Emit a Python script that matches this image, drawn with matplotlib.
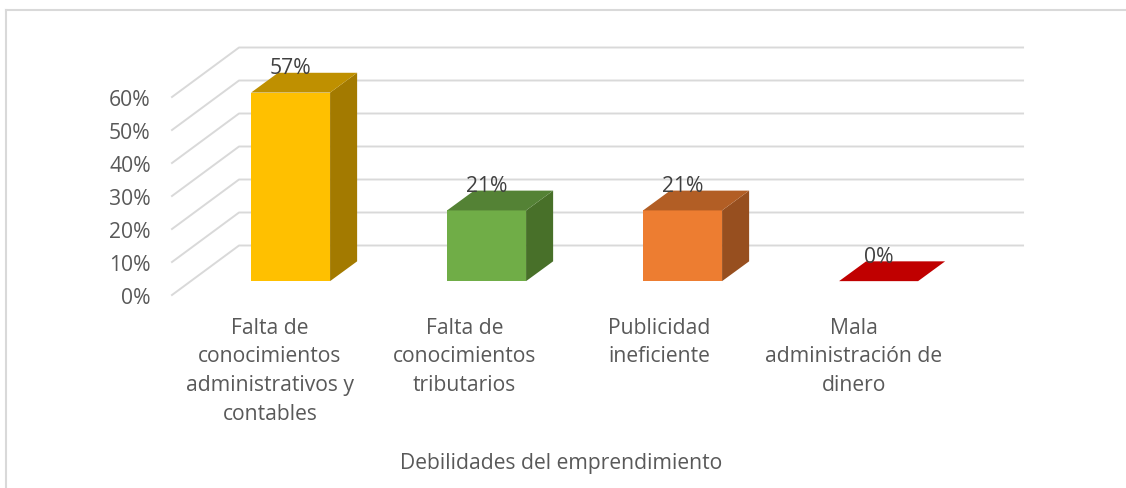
import matplotlib
matplotlib.use("Agg")
import matplotlib.pyplot as plt
from matplotlib.lines import Line2D
from matplotlib.patches import Polygon, Rectangle

# datos
categorias = ["Falta de\nconocimientos\nadministrativos y\ncontables",
              "Falta de\nconocimientos\ntributarios",
              "Publicidad\nineficiente",
              "Mala\nadministración de\ndinero"]
valores = [57.14, 21.43, 21.43, 0]
etiquetas = ["57%", "21%", "21%", "0%"]
ticks_y = [0, 10, 20, 30, 40, 50, 60]
ticks_y_txt = ["0%", "10%", "20%", "30%", "40%", "50%", "60%"]
titulo_x = "Debilidades del emprendimiento"

col_frente = ["#FFC000", "#70AD47", "#ED7D31", "#C00000"]
col_arriba = ["#BF9000", "#548235", "#B25E25", "#C00000"]
col_lado = ["#A37A00", "#487029", "#974F1F", "#A30000"]

plt.rcParams["font.family"] = ["Open Sans", "DejaVu Sans"]

W, H = 1126, 489
fig = plt.figure(figsize=(W / 100, H / 100), dpi=100)
ax = fig.add_axes([172 / W, 1 - 296 / H, 784 / W, 198 / H])
ax.set_xlim(-0.5, 3.5)
ax.set_ylim(0, 60)
for s in ax.spines.values():
    s.set_visible(False)

# profundidad del efecto 3D, en unidades de los ejes
prof_x, prof_y = 0.342, 15
bar_dx, bar_dy = 0.138, 6
elev = 4.2
despl = 0.105
ancho = 0.403

# paredes: lineas de la cuadricula
gris = "#D9D9D9"
for t in ticks_y:
    ax.plot([-0.5, -0.5 + prof_x, 3.5 + prof_x], [t, t + prof_y, t + prof_y],
            color=gris, lw=1.4, clip_on=False, zorder=1)

# barras
for i, v in enumerate(valores):
    x0 = i + despl - ancho / 2
    x1 = x0 + ancho
    y0 = elev
    y1 = v + elev
    if v > 0:
        ax.add_patch(Polygon([(x1, y0), (x1 + bar_dx, y0 + bar_dy), (x1 + bar_dx, y1 + bar_dy), (x1, y1)],
                             fc=col_lado[i], ec="none", clip_on=False, zorder=3))
        ax.add_patch(Rectangle((x0, y0), ancho, v, fc=col_frente[i], ec="none", clip_on=False, zorder=3))
    ax.add_patch(Polygon([(x0, y1), (x0 + bar_dx, y1 + bar_dy), (x1 + bar_dx, y1 + bar_dy), (x1, y1)],
                         fc=col_arriba[i], ec="none", clip_on=False, zorder=3))
    ax.text(i + despl, y1 + 7.6, etiquetas[i], ha="center", va="center",
            fontsize=15.2, color="#404040", clip_on=False, zorder=4)

ax.set_xticks([i * 0.9925 for i in range(len(categorias))])
ax.set_xticklabels(categorias, fontsize=15.2, color="#595959", linespacing=1.49, va="top")
ax.set_yticks(ticks_y)
ax.set_yticklabels(ticks_y_txt, fontsize=15.2, color="#595959")
ax.tick_params(length=0)
ax.tick_params(axis="x", pad=15.5)
ax.tick_params(axis="y", pad=15.3)
ax.set_xlabel(titulo_x, fontsize=15.2, color="#595959")
ax.xaxis.set_label_coords(0.496, -0.795)

# marco exterior: solo arriba e izquierda
fig.add_artist(Line2D([6 / W, 1], [1 - 11 / H, 1 - 11 / H], transform=fig.transFigure, color=gris, lw=1.5))
fig.add_artist(Line2D([6 / W, 6 / W], [0, 1 - 11 / H], transform=fig.transFigure, color=gris, lw=1.5))

fig.savefig("out.png", dpi=100)
